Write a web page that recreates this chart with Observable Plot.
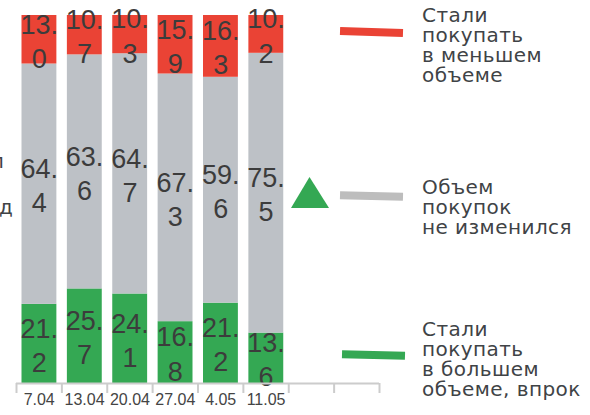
<!DOCTYPE html>
<html>
<head>
<meta charset="utf-8">
<script src="https://cdn.jsdelivr.net/npm/d3@7"></script>
<script src="https://cdn.jsdelivr.net/npm/@observablehq/plot@0.6"></script>
<style>
  html, body { margin: 0; padding: 0; background: #fff; }
  #wrap { position: relative; width: 590px; height: 415px; overflow: hidden; }
  .leg { position: absolute; left: 422px; font-family: "DejaVu Sans", sans-serif; font-size: 20px; line-height: 20px; color: #404346; letter-spacing: 0.45px; white-space: nowrap; }
  .seg { position: absolute; height: 8px; width: 63px; }
  .frag { position: absolute; font-family: "DejaVu Sans", sans-serif; font-size: 20px; line-height: 20px; color: #404346; }
</style>
</head>
<body>
<div id="wrap"></div>
<script>
const dates = ["7.04", "13.04", "20.04", "27.04", "4.05", "11.05"];
const seriesNames = [
  "Стали покупать в большем объеме, впрок",
  "Объем покупок не изменился",
  "Стали покупать в меньшем объеме"
];
const seriesColors = ["#34a853", "#bdc1c6", "#ea4335"];
const moreValues = [21.2, 25.7, 24.1, 16.8, 21.2, 13.6];
const sameValues = [64.4, 63.6, 64.7, 67.3, 59.6, 75.5];
const lessValues = [13.0, 10.7, 10.3, 15.9, 16.3, 10.2];
const slotCount = 8;

const seriesValues = [moreValues, sameValues, lessValues];
const rows = [];
dates.forEach((date, i) => {
  seriesNames.forEach((s, k) => {
    rows.push({i, date, series: s, value: seriesValues[k][i]});
  });
});

const fmt = d => {
  const s = d.value.toFixed(1);
  const k = s.indexOf(".") + 1;
  return s.slice(0, k) + "\n" + s.slice(k);
};

const chart = Plot.plot({
  width: 590,
  height: 415,
  marginLeft: 16,
  marginRight: 211,
  marginTop: 15,
  marginBottom: 32,
  style: {fontFamily: "'Liberation Sans', Arial, sans-serif", background: "transparent"},
  x: {type: "linear", domain: [0, slotCount]},
  y: {domain: [0, 1], axis: null},
  color: {domain: seriesNames, range: seriesColors},
  marks: [
    Plot.rectY(rows, Plot.stackY({
      x1: "i", x2: d => d.i + 1, y: "value", fill: "series",
      order: seriesNames, offset: "normalize", insetLeft: 5.5, insetRight: 5
    })),
    Plot.text(rows, Plot.stackY({
      x: d => d.i + 0.5, y: "value", z: "series",
      order: seriesNames, offset: "normalize",
      text: fmt, fontSize: 27, lineHeight: 1.27, fill: "#3c3c3c"
    })),
    Plot.ruleY([0], {stroke: "#cccccc", strokeWidth: 2}),
    Plot.axisX(d3.range(slotCount + 1), {
      tickSize: 10, tickFormat: () => "", stroke: "#cccccc", strokeWidth: 2, label: null
    }),
    Plot.text(dates, {
      x: (d, i) => i + 0.5, frameAnchor: "bottom", dy: 21,
      text: d => d, fontSize: 16, fill: "#444"
    })
  ]
});

const wrap = document.getElementById("wrap");
wrap.appendChild(chart);

function addSeg(color, left, top, rot) {
  const el = document.createElement("div");
  el.className = "seg";
  el.style.background = color;
  el.style.left = left + "px";
  el.style.top = top + "px";
  el.style.transform = `rotate(${rot}deg)`;
  wrap.appendChild(el);
}
function addLegText(text, top) {
  const el = document.createElement("div");
  el.className = "leg";
  el.style.top = top + "px";
  el.innerHTML = text.join("<br>");
  wrap.appendChild(el);
}
addSeg(seriesColors[2], 340, 28, 2);
addSeg("#bdbdbd", 340, 192, 1.5);
addSeg(seriesColors[0], 342, 351, 1.5);
addLegText(["Стали", "покупать", "в меньшем", "объеме"], 5);
addLegText(["Объем", "покупок", "не изменился"], 177);
addLegText(["Стали", "покупать", "в большем", "объеме, впрок"], 319);

const f1 = document.createElement("div");
f1.className = "frag"; f1.style.left = "-9px"; f1.style.top = "151px"; f1.textContent = "л";
wrap.appendChild(f1);
const f2 = document.createElement("div");
f2.className = "frag"; f2.style.left = "-1px"; f2.style.top = "197px"; f2.textContent = "д";
wrap.appendChild(f2);

const ns = "http://www.w3.org/2000/svg";
const tri = document.createElementNS(ns, "svg");
tri.setAttribute("width", 38); tri.setAttribute("height", 31);
tri.style.position = "absolute"; tri.style.left = "291px"; tri.style.top = "177px";
const poly = document.createElementNS(ns, "polygon");
poly.setAttribute("points", "18.5,0 38,31 0,31");
poly.setAttribute("fill", "#34a853");
tri.appendChild(poly);
wrap.appendChild(tri);
</script>
</body>
</html>
